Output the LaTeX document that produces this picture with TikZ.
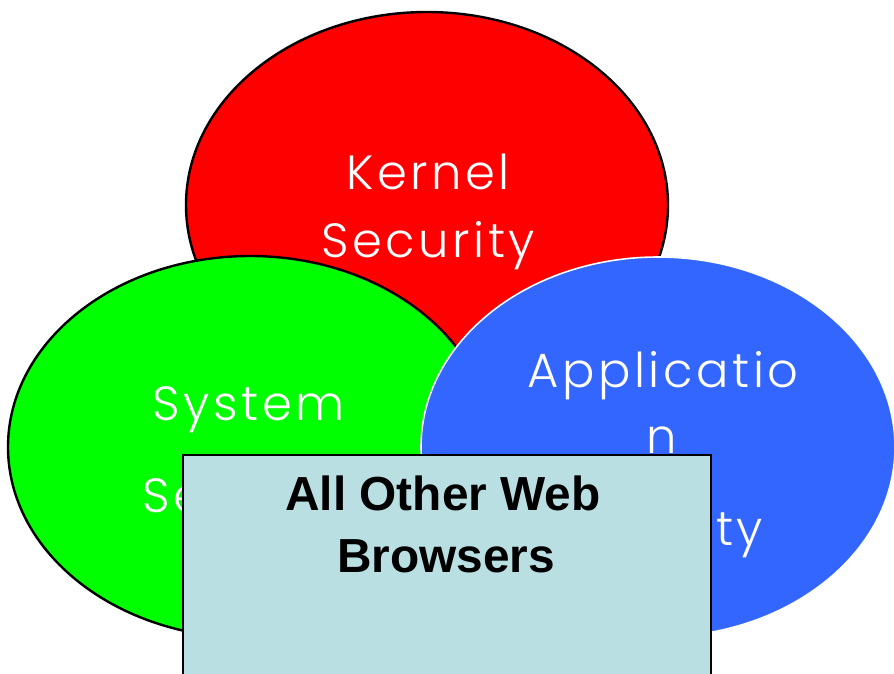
\documentclass[tikz,border=0pt]{standalone}
\usepackage{fontspec}
\usetikzlibrary{shapes.geometric}
\setmainfont{Liberation Sans}
\newfontfamily\thinfont[LetterSpace=7.5]{Poppins Light}
\definecolor{kernelred}{RGB}{255,0,0}
\definecolor{systemgreen}{RGB}{0,255,0}
\definecolor{appblue}{RGB}{51,102,255}
\definecolor{boxblue}{RGB}{185,223,226}
\begin{document}
\begin{tikzpicture}[x=1pt,y=-1pt,
  area/.style={ellipse, inner sep=0pt, line width=2.4pt},
  arealabel/.style={anchor=base, inner sep=0pt, text=white,
    font=\thinfont\fontsize{48}{48}\selectfont},
  boxlabel/.style={anchor=base, inner sep=0pt, text=black,
    font=\bfseries\fontsize{47.8}{47.8}\selectfont}]
  \useasboundingbox (0,0) rectangle (894,673);

  % three overlapping security areas
  \node[area, draw=black, fill=kernelred, minimum width=482pt, minimum height=386pt]
    (kernel) at (427,205) {};
  \node[arealabel] (kernel1) at (428,189) {Kernel};
  \node[arealabel] (kernel2) at (428,257) {Security};

  \node[area, draw=black, fill=systemgreen, minimum width=484pt, minimum height=382pt]
    (system) at (250,447) {};
  \node[arealabel] (system1) at (249,420) {System};
  \node[arealabel] (system2) at (249,512) {Security};

  \node[area, draw=white, line width=1.6pt, fill=appblue, minimum width=474pt, minimum height=380pt]
    (app) at (658,447) {};
  \node[arealabel] (app1) at (663,387) {Applicatio};
  \node[arealabel] (app2) at (662,453) {n};
  \node[arealabel] (app3) at (656,545) {Security};

  % the browser box in front
  \node[draw=black, line width=2.4pt, fill=boxblue, inner sep=0pt,
    minimum width=528pt, minimum height=240pt, anchor=north west]
    (browsers) at (182,454) {};
  \node[boxlabel] (browsers1) at (443,510) {All Other Web};
  \node[boxlabel] (browsers2) at (446,572) {Browsers};
\end{tikzpicture}
\end{document}
